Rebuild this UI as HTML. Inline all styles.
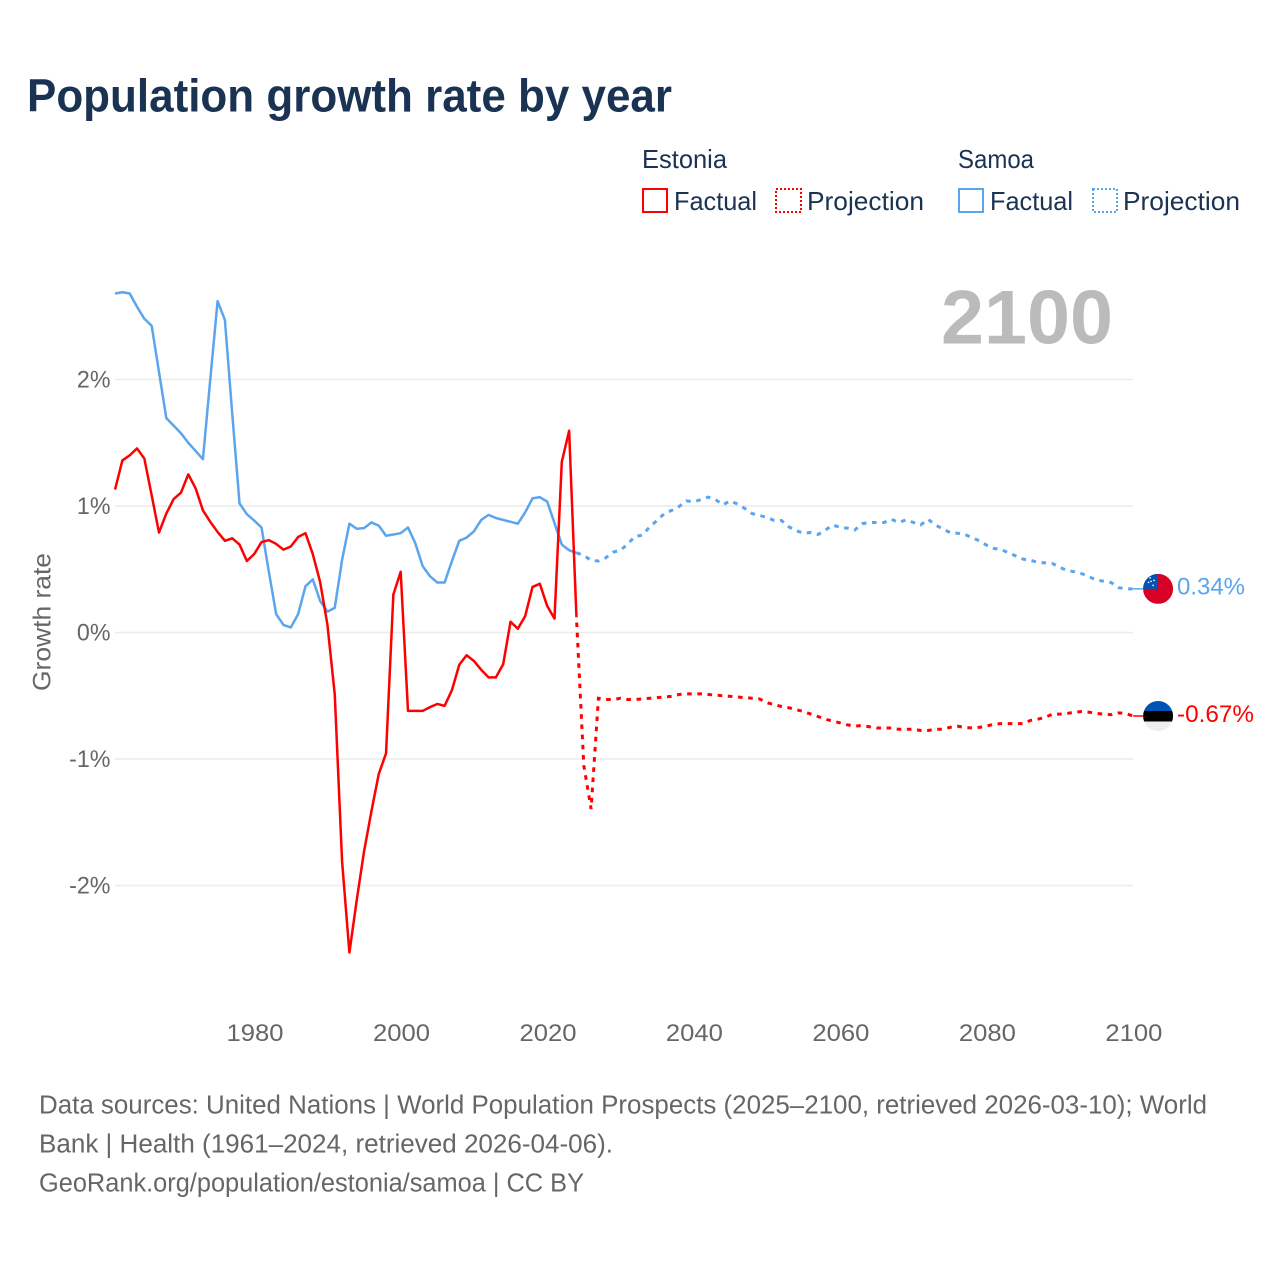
<!DOCTYPE html>
<html lang="en">
<head>
<meta charset="utf-8">
<title>Population growth rate by year</title>
<style>
html,body{margin:0;padding:0;background:#fff;}
svg{display:block;font-family:"Liberation Sans",Arial,sans-serif;}
</style>
</head>
<body>
<svg id="chart" xmlns="http://www.w3.org/2000/svg" width="1280" height="1280" viewBox="0 0 1280 1280">
  <rect width="1280" height="1280" fill="#fff"/>
  <text x="27" y="111.5" font-size="46" font-weight="700" fill="#1a3353" textLength="645" lengthAdjust="spacingAndGlyphs">Population growth rate by year</text>

  <g font-size="26" fill="#1a3353">
    <text x="642" y="168" textLength="85" lengthAdjust="spacingAndGlyphs">Estonia</text>
    <text x="958" y="168" textLength="76" lengthAdjust="spacingAndGlyphs">Samoa</text>
    <rect x="643" y="189" width="24" height="23" fill="none" stroke="#ff0000" stroke-width="2"/>
    <text x="674" y="210" textLength="83" lengthAdjust="spacingAndGlyphs">Factual</text>
    <rect x="776" y="189" width="25" height="23" fill="none" stroke="#ff0000" stroke-width="2" stroke-dasharray="2 2"/>
    <text x="807" y="210" textLength="117" lengthAdjust="spacingAndGlyphs">Projection</text>
    <rect x="959" y="189" width="24" height="23" fill="none" stroke="#5ba5ee" stroke-width="2"/>
    <text x="990" y="210" textLength="83" lengthAdjust="spacingAndGlyphs">Factual</text>
    <rect x="1093" y="189" width="24" height="23" fill="none" stroke="#5ba5ee" stroke-width="2" stroke-dasharray="2 2"/>
    <text x="1123" y="210" textLength="117" lengthAdjust="spacingAndGlyphs">Projection</text>
  </g>

  <text x="941" y="343.5" font-size="76" font-weight="700" fill="#bbbbbb" textLength="172" lengthAdjust="spacingAndGlyphs">2100</text>

  <g id="grid"></g>
  <g id="yTicks"></g>
  <g id="xTicks"></g>
  <text transform="translate(50.5 622) rotate(-90)" text-anchor="middle" font-size="25" fill="#666666" textLength="138" lengthAdjust="spacingAndGlyphs">Growth rate</text>
  <g id="series"></g>
  <g id="endMarkers"></g>

  <g font-size="25.5" fill="#666666">
    <text x="39" y="1113.5" textLength="1168" lengthAdjust="spacingAndGlyphs">Data sources: United Nations | World Population Prospects (2025–2100, retrieved 2026-03-10); World</text>
    <text x="39" y="1152.5" textLength="574" lengthAdjust="spacingAndGlyphs">Bank | Health (1961–2024, retrieved 2026-04-06).</text>
    <text x="39" y="1191.5" textLength="545" lengthAdjust="spacingAndGlyphs">GeoRank.org/population/estonia/samoa | CC BY</text>
  </g>
</svg>

<script>
const xTickYears = [1980, 2000, 2020, 2040, 2060, 2080, 2100];
const yTickValues = [2, 1, 0, -1, -2];
const factualStartYear = 1961;
const projectionStartYear = 2024;

const estoniaFactual = [
  1.13, 1.36, 1.40, 1.455, 1.375,
  1.085, 0.79, 0.94, 1.055, 1.105,
  1.25, 1.14, 0.965, 0.875, 0.795,
  0.725, 0.745, 0.695, 0.565, 0.62,
  0.715, 0.73, 0.70, 0.655, 0.68,
  0.755, 0.785, 0.62, 0.40, 0.06,
  -0.49, -1.81, -2.53, -2.115, -1.73,
  -1.415, -1.12, -0.955, 0.30, 0.48,
  -0.62, -0.62, -0.62, -0.59, -0.565,
  -0.58, -0.455, -0.255, -0.18, -0.225,
  -0.295, -0.355, -0.355, -0.25, 0.085,
  0.03, 0.13, 0.36, 0.385, 0.21,
  0.11, 1.35, 1.595, 0.12
];
const estoniaProjection = [
  0.12, -1.05, -1.395, -0.52, -0.53, -0.53,
  -0.52, -0.53, -0.53, -0.525, -0.52,
  -0.515, -0.51, -0.505, -0.49, -0.485,
  -0.485, -0.485, -0.49, -0.495, -0.50,
  -0.505, -0.51, -0.515, -0.52, -0.525,
  -0.555, -0.57, -0.585, -0.595, -0.61,
  -0.625, -0.645, -0.665, -0.685, -0.70,
  -0.715, -0.73, -0.74, -0.735, -0.745,
  -0.755, -0.755, -0.755, -0.765, -0.765,
  -0.765, -0.775, -0.775, -0.765, -0.765,
  -0.75, -0.74, -0.75, -0.755, -0.75,
  -0.74, -0.725, -0.72, -0.72, -0.72,
  -0.72, -0.695, -0.685, -0.67, -0.645,
  -0.645, -0.64, -0.63, -0.625, -0.63,
  -0.64, -0.645, -0.65, -0.635, -0.64,
  -0.66
];
const samoaFactual = [
  2.68, 2.69, 2.68, 2.575, 2.48,
  2.425, 2.06, 1.695, 1.635, 1.575,
  1.50, 1.435, 1.37, 2.0, 2.62,
  2.47, 1.73, 1.02, 0.935, 0.885,
  0.83, 0.48, 0.145, 0.06, 0.04,
  0.145, 0.365, 0.42, 0.25, 0.165,
  0.195, 0.575, 0.86, 0.82, 0.825,
  0.87, 0.845, 0.765, 0.775, 0.785,
  0.83, 0.705, 0.525, 0.445, 0.395,
  0.395, 0.565, 0.725, 0.75, 0.80,
  0.89, 0.93, 0.905, 0.89, 0.875,
  0.86, 0.95, 1.06, 1.07, 1.035,
  0.865, 0.695, 0.65, 0.63
];
const samoaProjection = [
  0.63, 0.61, 0.57, 0.565, 0.59, 0.635,
  0.65, 0.70, 0.76, 0.77, 0.835,
  0.885, 0.94, 0.965, 0.995, 1.04,
  1.035, 1.05, 1.07, 1.05, 1.01,
  1.04, 1.015, 0.98, 0.94, 0.925,
  0.91, 0.885, 0.885, 0.835, 0.805,
  0.785, 0.79, 0.775, 0.81, 0.85,
  0.83, 0.825, 0.81, 0.86, 0.87,
  0.87, 0.87, 0.895, 0.87, 0.89,
  0.87, 0.85, 0.895, 0.85, 0.82,
  0.79, 0.785, 0.775, 0.75, 0.725,
  0.69, 0.665, 0.655, 0.63, 0.605,
  0.58, 0.57, 0.555, 0.55, 0.545,
  0.515, 0.49, 0.48, 0.465, 0.44,
  0.415, 0.405, 0.395, 0.355, 0.345,
  0.345
];
const samoaEndLabel = "0.34%";
const estoniaEndLabel = "-0.67%";

const NS = "http://www.w3.org/2000/svg";
const RED = "#ff0000";
const BLUE = "#5ba5ee";
const GREY = "#666666";

function xScale(year) { return 254.2 + (year - 1980) * 7.324; }
function yScale(value) { return 632.5 - value * 126.5; }

function make(tag, attrs, parent) {
  const el = document.createElementNS(NS, tag);
  for (const k in attrs) el.setAttribute(k, attrs[k]);
  parent.appendChild(el);
  return el;
}

function linePoints(values, startYear) {
  return values.map((v, i) => xScale(startYear + i).toFixed(2) + "," + yScale(v).toFixed(2)).join(" ");
}

const gridG = document.getElementById("grid");
const yTickG = document.getElementById("yTicks");
const xTickG = document.getElementById("xTicks");
const seriesG = document.getElementById("series");
const markerG = document.getElementById("endMarkers");

yTickValues.forEach(function (v) {
  const g = make("line", { x1: 115, x2: 1133, y1: yScale(v), y2: yScale(v), stroke: "#ececec", "stroke-width": 1.5 }, gridG);
  
  
  const t = make("text", { x: 110.5, y: yScale(v) + 8, "text-anchor": "end", "font-size": 24, fill: GREY }, yTickG);
  
  
  t.textContent = v + "%";
  t.setAttribute("textLength", (t.getComputedTextLength() * 0.97).toFixed(1));
  t.setAttribute("lengthAdjust", "spacingAndGlyphs");
});

xTickYears.forEach(function (yr) {
  const t = make("text", { x: xScale(yr) + 0.8, y: 1041, "text-anchor": "middle", "font-size": 24, fill: GREY, textLength: 57, lengthAdjust: "spacingAndGlyphs" }, xTickG);
  
  
  t.textContent = yr;
});

const samoaFactualLine = make("polyline", { points: linePoints(samoaFactual, factualStartYear), fill: "none", stroke: BLUE, "stroke-width": 2.5, "stroke-linejoin": "round" }, seriesG);



const samoaProjectionLine = make("polyline", { points: linePoints(samoaProjection, projectionStartYear), fill: "none", stroke: BLUE, "stroke-width": 3, "stroke-dasharray": "4.6 5.6", "stroke-dashoffset": 0 }, seriesG);



const estoniaFactualLine = make("polyline", { points: linePoints(estoniaFactual, factualStartYear), fill: "none", stroke: RED, "stroke-width": 2.5, "stroke-linejoin": "round" }, seriesG);



const estoniaProjectionLine = make("polyline", { points: linePoints(estoniaProjection, projectionStartYear), fill: "none", stroke: RED, "stroke-width": 3, "stroke-dasharray": "4.6 5.6", "stroke-dashoffset": 5 }, seriesG);



const flagX = xScale(2100) + 25;
const samoaEndY = yScale(samoaProjection[samoaProjection.length - 1]);
const estoniaEndY = yScale(estoniaProjection[estoniaProjection.length - 1]);

const samoaLink = make("line", { x1: xScale(2100), x2: flagX - 15, y1: samoaEndY, y2: samoaEndY, stroke: BLUE, "stroke-width": 1.5 }, markerG);


const estoniaLink = make("line", { x1: xScale(2100), x2: flagX - 15, y1: estoniaEndY, y2: estoniaEndY, stroke: RED, "stroke-width": 1.5 }, markerG);



const defs = make("defs", {}, markerG);
const clipA = make("clipPath", { id: "clipSamoa" }, defs);
make("circle", { cx: flagX, cy: samoaEndY, r: 15 }, clipA);
const clipB = make("clipPath", { id: "clipEstonia" }, defs);
make("circle", { cx: flagX, cy: estoniaEndY, r: 15 }, clipB);

const samoaFlag = make("g", { "clip-path": "url(#clipSamoa)" }, markerG);


make("rect", { x: flagX - 15, y: samoaEndY - 15, width: 30, height: 30, fill: "#d80027" }, samoaFlag);
make("rect", { x: flagX - 15, y: samoaEndY - 15, width: 15, height: 15, fill: "#0052b4" }, samoaFlag);
[[-8, -11], [-4, -8.5], [-9.5, -6.5], [-5, -3.5], [-7, -7.5]].forEach(function (s) {
  make("circle", { cx: flagX + s[0], cy: samoaEndY + s[1], r: 0.9, fill: "#f0f0f0" }, samoaFlag);
});

const estoniaFlag = make("g", { "clip-path": "url(#clipEstonia)" }, markerG);


make("rect", { x: flagX - 15, y: estoniaEndY - 15, width: 30, height: 10, fill: "#0052b4" }, estoniaFlag);
make("rect", { x: flagX - 15, y: estoniaEndY - 5, width: 30, height: 10.5, fill: "#000000" }, estoniaFlag);
make("rect", { x: flagX - 15, y: estoniaEndY + 5.5, width: 30, height: 10, fill: "#eeeeee" }, estoniaFlag);

const samoaValue = make("text", { x: 1177, y: samoaEndY + 5.5, "font-size": 24.5, fill: BLUE, textLength: 68, lengthAdjust: "spacingAndGlyphs" }, markerG);


samoaValue.textContent = samoaEndLabel;

const estoniaValue = make("text", { x: 1177, y: estoniaEndY + 6, "font-size": 24.5, fill: RED, textLength: 77, lengthAdjust: "spacingAndGlyphs" }, markerG);


estoniaValue.textContent = estoniaEndLabel;
</script>
</body>
</html>
